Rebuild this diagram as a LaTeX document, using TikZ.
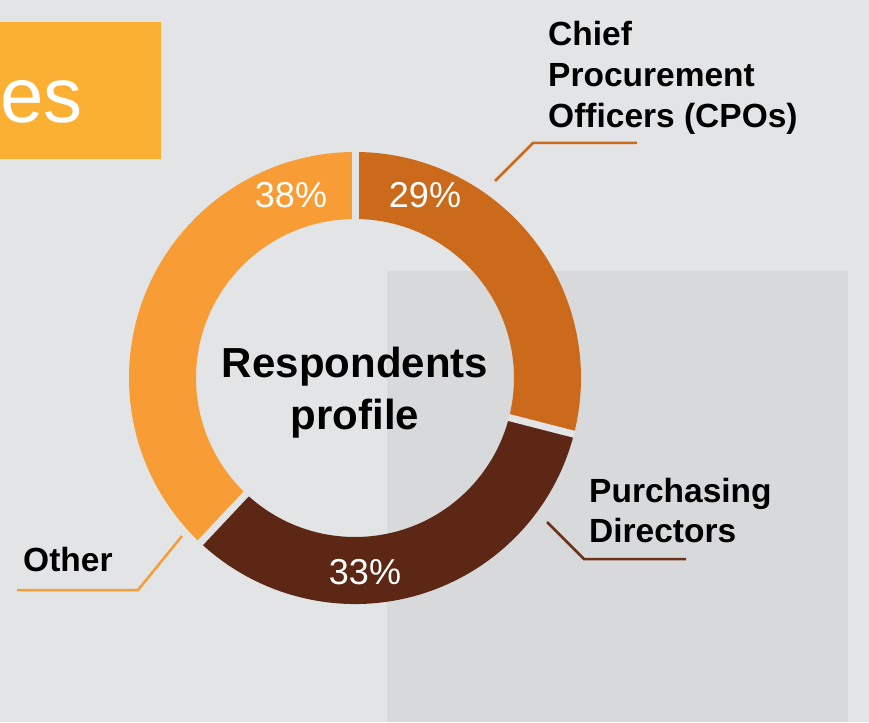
\documentclass[tikz,border=0pt]{standalone}
\usepackage{fontspec}
\setmainfont{Liberation Sans}
\usepackage{tikz}
\usetikzlibrary{positioning}
\usepackage{xcolor}
\definecolor{bgout}{HTML}{E3E4E6}
\definecolor{bgin}{HTML}{D8D9DB}
\definecolor{titlebox}{HTML}{FBB034}
\definecolor{cpo}{HTML}{CC6A1C}
\definecolor{purch}{HTML}{5C2815}
\definecolor{other}{HTML}{F89D35}
\definecolor{purchline}{HTML}{6B3219}
\tikzset{
  pct/.style={text=white, inner sep=0, font=\fontsize{36}{36}\selectfont},
  lbl/.style={align=left, inner sep=0, font=\bfseries\fontsize{33.5}{41}\selectfont},
  leader/.style={line width=2.5}
}
% one piece of the ring: start angle, end angle, colour
\newcommand{\ringpart}[3]{%
  \fill[#3] ([shift={(#1:226)}]ctr) arc[start angle=#1,end angle=#2,radius=226]
    -- ([shift={(#2:159)}]ctr) arc[start angle=#2,end angle=#1,radius=159] -- cycle;}

\begin{document}
\begin{tikzpicture}[x=1pt,y=1pt]
\useasboundingbox (0,0) rectangle (869,-722);
\fill[bgout] (0,0) rectangle (869,-722);
\fill[bgin] (387,-271) rectangle (848,-722);
% title box
\fill[titlebox] (0,-22) rectangle (161,-159);
\node[anchor=base west, inner sep=0, text=white, font=\fontsize{78}{78}\selectfont] (ttl) at (0,-123) {es};
% the ring
\coordinate (ctr) at (355,-378);
\ringpart{90}{-14.4}{cpo}
\ringpart{-14.4}{-133.2}{purch}
\ringpart{-133.2}{-270}{other}
\foreach \a in {90,-14.4,-133.2}
  \draw[bgout, line width=7] ([shift={(\a:158.5)}]ctr) -- ([shift={(\a:226.5)}]ctr);
\node[pct] (p29) at (425,-195) {29\%};
\node[pct] (p38) at (291,-195) {38\%};
\node[pct] (p33) at (365,-572) {33\%};
\node[align=center, inner sep=0, anchor=base, font=\bfseries\fontsize{42}{52}\selectfont] (resp) at (355,-429) {Respondents\\profile};
% labels and leaders
\node[lbl, anchor=base west] (cpolbl) at (548,-128) {Chief\\Procurement\\Officers (CPOs)};
\node[lbl, anchor=base west, font=\bfseries\fontsize{33.5}{39.5}\selectfont] (purlbl) at (589,-542) {Purchasing\\Directors};
\node[lbl, anchor=base west] (othlbl) at (23,-571) {Other};
\coordinate (cpotip) at (495,-181);
\coordinate (purtip) at (547,-522);
\coordinate (othtip) at (182,-536);
\draw[leader, cpo] (cpotip) -- ++(38,38) -- ++(104,0);
\draw[leader, purchline] (purtip) -- ++(37,-37) -- ++(102,0);
\draw[leader, other] (othtip) -- ++(-44,-54) -- ++(-121,0);
\end{tikzpicture}
\end{document}
